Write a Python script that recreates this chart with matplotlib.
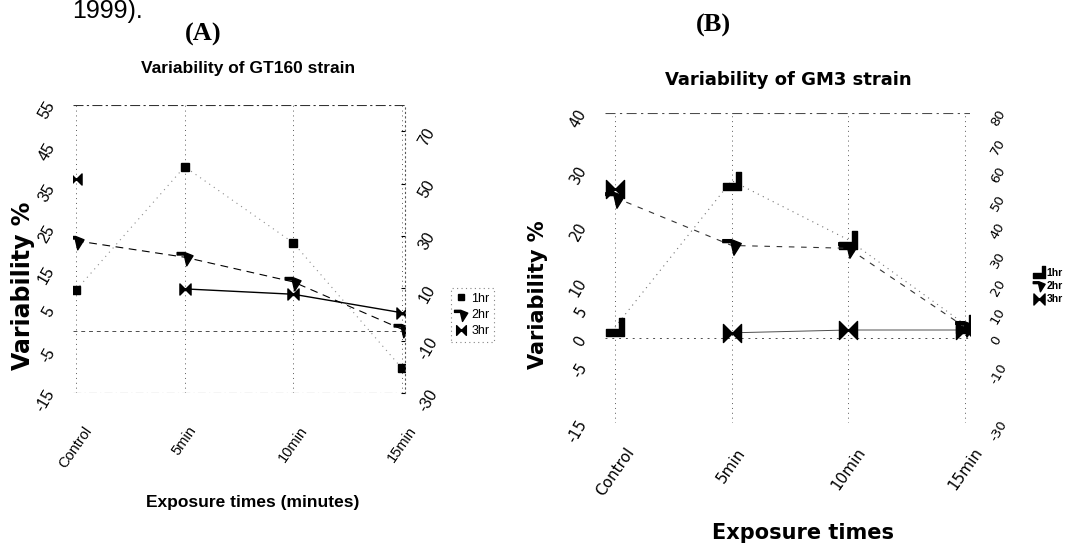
import numpy as np
import matplotlib
matplotlib.use("Agg")
import matplotlib.pyplot as plt
from matplotlib.path import Path
from matplotlib.lines import Line2D

# ---------------------------------------------------------------------------
# Datos
# ---------------------------------------------------------------------------
categories = ["Control", "5min", "10min", "15min"]
series_names = ["1hr", "2hr", "3hr"]

# (A) cepa GT160
gt160_1hr = [10, 40, 21.5, -9]
gt160_2hr = [22, 18, 12, 0.5]
gt160_3hr = [37, 10.3, 9, 4.5]
gt160_left_ticks = [-15, -5, 5, 15, 25, 35, 45, 55]
gt160_right_ticks = [-30, -10, 10, 30, 50, 70]

# (B) cepa GM3
gm3_1hr = [2, 28, 17.5, 2.5]
gm3_2hr = [25, 16.5, 16, 2]
gm3_3hr = [26.5, 1, 1.5, 1.5]
gm3_left_ticks = [-15, -5, 0, 5, 10, 20, 30, 40]
gm3_right_ticks = [-30, -10, 0, 10, 20, 30, 40, 50, 60, 70, 80]

# ---------------------------------------------------------------------------
# Marcadores
# ---------------------------------------------------------------------------
M, L, C = Path.MOVETO, Path.LINETO, Path.CLOSEPOLY
BOWTIE = Path([(-1, -1), (0, 0), (-1, 1), (-1, -1), (1, -1), (0, 0), (1, 1), (1, -1)],
              [M, L, L, C, M, L, L, C])
ARROW = Path([(-1, 0.3), (-1, 0.6), (-0.1, 0.6), (0.9, 0.2), (0.15, -1), (-0.15, 0.3), (-1, 0.3)],
             [M, L, L, L, L, L, C])
BOOT = Path([(-1, -1), (1, -1), (1, 1), (0.45, 1), (0.45, -0.25), (-1, -0.25), (-1, -1)],
            [M, L, L, L, L, L, C])

SANS = "Liberation Sans"
WIDE = "DejaVu Sans"

fig = plt.figure(figsize=(10.73, 5.44), dpi=100)
fig.patch.set_facecolor("white")

x = np.arange(len(categories))


def base_axes(rect, xlim, ylim):
    ax = fig.add_axes(rect)
    ax.set_xlim(*xlim)
    ax.set_ylim(*ylim)
    for s in ax.spines.values():
        s.set_visible(False)
    ax.set_facecolor("none")
    for xi in x:
        ax.axvline(xi, color="0.35", lw=0.7, ls=(0, (1, 4)), zorder=1)
    return ax


# ---------------------------------------------------------------------------
# (A)
# ---------------------------------------------------------------------------
axA = base_axes([0.0680, 0.2776, 0.3094, 0.5294], (-0.028, 3.028), (-15, 55))
axA.axhline(55, color="0.2", lw=0.8, ls=(0, (9, 3, 2, 3)), zorder=1)
axA.axhline(0, color="0.3", lw=0.7, ls=(0, (4, 4)), zorder=1)
axA.axhline(-15, color="0.3", lw=0.8, ls=(0, (7, 3, 1, 3)), zorder=1)

axA.plot(x, gt160_1hr, ls=(0, (1, 4)), color="0.55", lw=0.8,
         marker="s", ms=6, mfc="k", mec="k", zorder=3)
axA.plot(x, gt160_2hr, ls=(0, (7, 5)), color="k", lw=0.8,
         marker=ARROW, ms=12, mfc="k", mec="k", zorder=3)
axA.plot(x[1:], gt160_3hr[1:], ls="-", color="k", lw=1, zorder=2)
axA.plot(x, gt160_3hr, ls="none", marker=BOWTIE, ms=8, mfc="k", mec="k", zorder=3)

axA.set_yticks(gt160_left_ticks)
axA.set_yticklabels([str(t) for t in gt160_left_ticks], rotation=60,
                    fontsize=11.5, fontfamily=SANS)
axA.tick_params(axis="y", length=0, pad=11)
axA.set_xticks(x)
axA.set_xticklabels(categories, rotation=55, ha="center", fontsize=10.5, fontfamily=SANS)
axA.tick_params(axis="x", length=0, pad=22)

axA2 = axA.twinx()
axA2.set_ylim(-30, 80)
for s in ["top", "bottom", "left"]:
    axA2.spines[s].set_visible(False)
axA2.spines["right"].set_linestyle((0, (1, 3)))
axA2.spines["right"].set_color("0.35")
axA2.spines["right"].set_linewidth(0.8)
axA2.set_yticks(gt160_right_ticks)
axA2.set_yticklabels([str(t) for t in gt160_right_ticks], rotation=60,
                     fontsize=11.5, fontfamily=SANS)
axA2.tick_params(axis="y", length=3, direction="in", pad=8)

handlesA = [
    Line2D([], [], ls="none", marker="s", ms=5, color="k"),
    Line2D([], [], ls="none", marker=ARROW, ms=10, color="k"),
    Line2D([], [], ls="none", marker=BOWTIE, ms=7, color="k"),
]
legA = fig.legend(handlesA, series_names, loc="center left",
                  bbox_to_anchor=(0.4147, 0.421), frameon=True, fancybox=False,
                  prop={"family": SANS, "size": 9}, handlelength=0.8,
                  handletextpad=0.4, labelspacing=0.35, borderpad=0.4)
legA.get_frame().set_edgecolor("0.4")
legA.get_frame().set_linestyle((0, (1, 3)))
legA.get_frame().set_linewidth(0.8)

fig.text(0.067, 0.966, "1999).", fontsize=18, fontfamily=SANS, ha="left", va="baseline")
fig.text(0.1892, 0.9375, "(A)", fontsize=19, fontfamily="Liberation Serif",
         fontweight="bold", ha="center", va="center")
fig.text(0.2311, 0.875, "Variability of GT160 strain", fontsize=12.5, fontfamily=SANS,
         fontweight="bold", ha="center", va="center")
fig.text(0.0214, 0.4743, "Variability %", fontsize=17, fontfamily=WIDE,
         fontweight="bold", rotation=90, ha="center", va="center")
fig.text(0.2358, 0.0772, "Exposure times (minutes)", fontsize=12.5, fontfamily=SANS,
         fontweight="bold", ha="center", va="center")

# ---------------------------------------------------------------------------
# (B)
# ---------------------------------------------------------------------------
axB = base_axes([0.5638, 0.2224, 0.3402, 0.5699], (-0.086, 3.043), (-15, 40))
axB.axhline(40, color="0.3", lw=0.8, ls=(0, (9, 4, 2, 4)), zorder=1)
axB.axhline(0, color="0.3", lw=0.7, ls=(0, (2, 5)), zorder=1)
axB.axhline(-15, color="0.5", lw=0.6, ls=(0, (1, 8)), zorder=1)

axB.plot(x, gm3_1hr, ls=(0, (1, 4)), color="0.45", lw=0.8,
         marker=BOOT, ms=13, mfc="k", mec="k", zorder=3)
axB.plot(x, gm3_2hr, ls=(0, (5, 6)), color="0.2", lw=0.8,
         marker=ARROW, ms=14, mfc="k", mec="k", zorder=3)
axB.plot(x[1:], gm3_3hr[1:], ls="-", color="0.3", lw=0.7, zorder=2)
axB.plot(x, gm3_3hr, ls="none", marker=BOWTIE, ms=13, mfc="k", mec="k", zorder=3)

axB.set_yticks(gm3_left_ticks)
axB.set_yticklabels([str(t) for t in gm3_left_ticks], rotation=60,
                    fontsize=10.5, fontfamily=WIDE)
axB.tick_params(axis="y", length=0, pad=11)
axB.set_xticks(x)
axB.set_xticklabels(categories, rotation=55, ha="center", fontsize=11, fontfamily=WIDE)
axB.tick_params(axis="x", length=0, pad=16)

axB2 = axB.twinx()
axB2.set_ylim(-30, 80)
for s in axB2.spines.values():
    s.set_visible(False)
axB2.set_yticks(gm3_right_ticks)
axB2.set_yticklabels([str(t) for t in gm3_right_ticks], rotation=60,
                     fontsize=9.5, fontfamily=WIDE)
axB2.tick_params(axis="y", length=0, pad=13)

handlesB = [
    Line2D([], [], ls="none", marker=BOOT, ms=8, color="k"),
    Line2D([], [], ls="none", marker=ARROW, ms=9, color="k"),
    Line2D([], [], ls="none", marker=BOWTIE, ms=8, color="k"),
]
fig.legend(handlesB, series_names, loc="center left", bbox_to_anchor=(0.958, 0.474),
           frameon=False, prop={"family": SANS, "size": 7.5, "weight": "bold"},
           handlelength=0.8, handletextpad=0.3, labelspacing=0.3, borderpad=0.2)

fig.text(0.6645, 0.954, "(B)", fontsize=19, fontfamily="Liberation Serif",
         fontweight="bold", ha="center", va="center")
fig.text(0.7344, 0.853, "Variability of GM3 strain", fontsize=13, fontfamily=WIDE,
         fontweight="bold", ha="center", va="center")
fig.text(0.5014, 0.4577, "Variability %", fontsize=15, fontfamily=WIDE,
         fontweight="bold", rotation=90, ha="center", va="center")
fig.text(0.7484, 0.0202, "Exposure times", fontsize=15, fontfamily=WIDE,
         fontweight="bold", ha="center", va="center")

fig.savefig("out.png", dpi=100, facecolor="white")
